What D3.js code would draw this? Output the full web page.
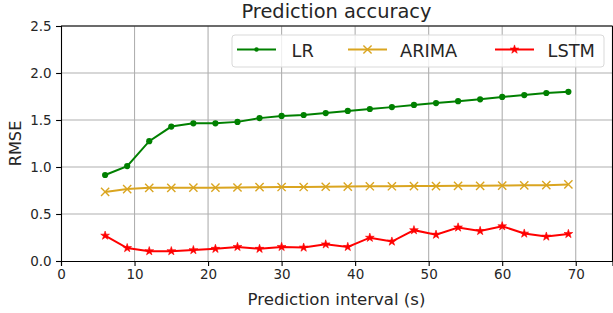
<!DOCTYPE html>
<html><head><meta charset="utf-8">
<script src="https://cdn.jsdelivr.net/npm/d3@7"></script>
<style>body{margin:0;background:#fff}svg{display:block}text{font-family:"DejaVu Sans",sans-serif;fill:#262626}</style>
</head><body>
<script>
const intervals = [6,9,12,15,18,21,24,27,30,33,36,39,42,45,48,51,54,57,60,63,66,69];
const lrValues = [0.915,1.01,1.275,1.43,1.465,1.465,1.48,1.52,1.543,1.553,1.574,1.597,1.617,1.637,1.66,1.68,1.70,1.72,1.745,1.765,1.787,1.80];
const arimaValues = [0.735,0.765,0.778,0.778,0.78,0.78,0.782,0.785,0.787,0.787,0.79,0.792,0.795,0.795,0.797,0.797,0.8,0.8,0.802,0.805,0.807,0.815];
const lstmValues = [0.27,0.138,0.105,0.105,0.116,0.13,0.15,0.13,0.15,0.143,0.177,0.15,0.248,0.207,0.328,0.28,0.357,0.32,0.37,0.292,0.26,0.288];
const xTicks = [0,10,20,30,40,50,60,70];
const yTicks = [0,0.5,1.0,1.5,2.0,2.5];
const seriesNames = ["LR","ARIMA","LSTM"];
const seriesColors = ["#008000","#DAA520","#FF0000"];
const seriesMarkers = ["dot","x","star"];

const W=613,H=313;
const svg=d3.select("body").append("svg").attr("width",W).attr("height",H);
const x=d3.scaleLinear().domain([0,75]).range([61,612.5]);
const y=d3.scaleLinear().domain([0,2.5]).range([261,26]);

// grid
svg.append("g").selectAll("line").data(xTicks.slice(1)).join("line")
  .attr("x1",d=>x(d)).attr("x2",d=>x(d)).attr("y1",y(0)).attr("y2",y(2.5))
  .attr("stroke","#b0b0b0").attr("stroke-width",1.1);
svg.append("g").selectAll("line").data(yTicks.slice(1)).join("line")
  .attr("x1",x(0)).attr("x2",x(75)).attr("y1",d=>y(d)).attr("y2",d=>y(d))
  .attr("stroke","#b0b0b0").attr("stroke-width",1.1);

// axes
const xa=svg.append("g").attr("transform",`translate(0,${y(0)})`)
  .call(d3.axisBottom(x).tickValues(xTicks).tickFormat(d3.format("d")).tickSize(4.9).tickPadding(4));
const ya=svg.append("g").attr("transform",`translate(${x(0)},0)`)
  .call(d3.axisLeft(y).tickValues(yTicks).tickFormat(d3.format(".1f")).tickSize(4.9).tickPadding(4.5));
[xa,ya].forEach(a=>{a.selectAll("text").attr("font-size","13.5px").attr("font-family","DejaVu Sans").attr("fill","#262626");
  a.selectAll("line").attr("stroke","#000").attr("stroke-width",1.1);
  a.select(".domain").attr("stroke","#000").attr("stroke-width",1.1);});
// top/right spines
svg.append("line").attr("x1",x(0)).attr("x2",x(75)).attr("y1",y(2.5)).attr("y2",y(2.5)).attr("stroke","#000").attr("stroke-width",1.1);
svg.append("line").attr("x1",x(75)).attr("x2",x(75)).attr("y1",y(0)).attr("y2",y(2.5)).attr("stroke","#000").attr("stroke-width",1.1);

function starD(R){const r=R*0.382;let p=[];for(let k=0;k<10;k++){const a=-Math.PI/2+k*Math.PI/5;const rr=k%2?r:R;p.push([rr*Math.cos(a),rr*Math.sin(a)]);}return "M"+p.map(q=>q[0].toFixed(2)+","+q[1].toFixed(2)).join("L")+"Z";}
const starPath=starD(4.6);
const crossPath="M-4.1,-4.1L4.1,4.1M-4.1,4.1L4.1,-4.1";
function drawMarker(g,type,color){
  if(type==="dot") g.append("circle").attr("r",3.1).attr("fill",color);
  else if(type==="x") g.append("path").attr("d",crossPath).attr("stroke",color).attr("stroke-width",1.4).attr("fill","none");
  else g.append("path").attr("d",starPath).attr("fill",color).attr("stroke",color).attr("stroke-width",0.6);
}
const allValues=[lrValues,arimaValues,lstmValues];
const line=d3.line().x(d=>x(d[0])).y(d=>y(d[1]));
allValues.forEach((vals,i)=>{
  const pts=intervals.map((t,j)=>[t,vals[j]]);
  svg.append("path").datum(pts).attr("d",line).attr("fill","none").attr("stroke",seriesColors[i]).attr("stroke-width",2);
  pts.forEach(p=>{const g=svg.append("g").attr("transform",`translate(${x(p[0])},${y(p[1])})`);drawMarker(g,seriesMarkers[i],seriesColors[i]);});
});

// legend
const lg=svg.append("g");
lg.append("rect").attr("x",232).attr("y",35).attr("width",372).attr("height",32).attr("rx",3)
  .attr("fill","#fff").attr("fill-opacity",0.8).attr("stroke","#d9d9d9").attr("stroke-width",1);
const lx=[237,348,495], tx=[291.5,400,547.5];
seriesNames.forEach((n,i)=>{
  lg.append("line").attr("x1",lx[i]).attr("x2",lx[i]+39).attr("y1",49.5).attr("y2",49.5).attr("stroke",seriesColors[i]).attr("stroke-width",2);
  const g=lg.append("g").attr("transform",`translate(${lx[i]+19.5},49.5)`);
  if(seriesMarkers[i]==="dot") g.append("circle").attr("r",2.2).attr("fill",seriesColors[i]);
  else drawMarker(g,seriesMarkers[i],seriesColors[i]);
  lg.append("text").attr("x",tx[i]).attr("y",56.5).attr("font-size","17.8px").text(n);
});

// title and labels
svg.append("text").attr("x",336.5).attr("y",18).attr("text-anchor","middle").attr("font-size","19.4px").text("Prediction accuracy");
svg.append("text").attr("x",336.5).attr("y",304.5).attr("text-anchor","middle").attr("font-size","16.6px").text("Prediction interval (s)");
svg.append("text").attr("transform","translate(21,143.5) rotate(-90)").attr("text-anchor","middle").attr("font-size","16.2px").text("RMSE");
</script>
</body></html>
